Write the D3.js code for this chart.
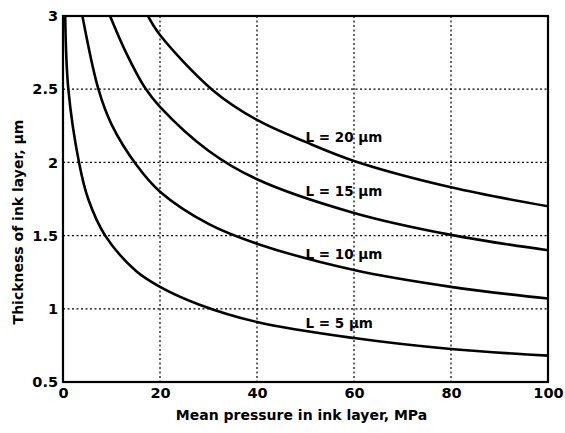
<!DOCTYPE html>
<html>
<head>
<meta charset="utf-8">
<script src="https://cdn.jsdelivr.net/npm/d3@7"></script>
<style>
  body { margin: 0; background: #fff; }
  text { font-family: "DejaVu Sans", Arial, sans-serif; font-weight: bold; fill: #000; }
</style>
</head>
<body>
<script>
// ink layer thickness vs mean pressure, one curve per L

// pressure (MPa) and thickness (um)
var p5  = [0.45, 1.1, 3.3, 5.2, 8.7, 15, 20, 28, 40, 60, 80, 100];
var h5  = [3.0, 2.5, 2.0, 1.75, 1.5, 1.26, 1.15, 1.03, 0.91, 0.80, 0.725, 0.68];
var p10 = [4.0, 7.3, 10, 15.2, 20, 30, 40, 60, 80, 100];
var h10 = [3.0, 2.5, 2.26, 1.98, 1.80, 1.58, 1.445, 1.265, 1.15, 1.07];
var p15 = [9.7, 13, 16.9, 20, 30, 40, 60, 80, 100];
var h15 = [3.0, 2.75, 2.51, 2.38, 2.08, 1.885, 1.655, 1.505, 1.40];
var p20 = [17.5, 20, 31, 40, 50, 60, 80, 100];
var h20 = [3.0, 2.87, 2.49, 2.29, 2.14, 2.01, 1.83, 1.70];

var curveNames = ["L = 5 µm", "L = 10 µm", "L = 15 µm", "L = 20 µm"];
// where each name sits (x in MPa, baseline in µm)
var labelP = [50, 50, 50, 50];
var labelH = [0.87, 1.34, 1.77, 2.14];

var xTicks = [0, 20, 40, 60, 80, 100];
var yTicks = [0.5, 1, 1.5, 2, 2.5, 3];

var series = [[p5, h5], [p10, h10], [p15, h15], [p20, h20]];

var margin = {top: 16, right: 17, bottom: 51, left: 63};
var W = 565, H = 433;
var width = W - margin.left - margin.right;
var height = H - margin.top - margin.bottom;

var x = d3.scaleLinear().domain([0, 100]).range([0, width]);
var y = d3.scaleLinear().domain([0.5, 3]).range([height, 0]);

var svg = d3.select("body").append("svg")
    .attr("width", W)
    .attr("height", H);

var g = svg.append("g")
    .attr("transform", "translate(" + margin.left + "," + margin.top + ")");

// dotted grid
g.selectAll(".vgrid")
    .data(xTicks.slice(1, -1))
    .enter().append("line")
    .attr("x1", function(d) { return x(d); })
    .attr("x2", function(d) { return x(d); })
    .attr("y1", 0)
    .attr("y2", height)
    .attr("stroke", "#000")
    .attr("stroke-width", 1.2)
    .attr("stroke-dasharray", "2,2.5");

g.selectAll(".hgrid")
    .data(yTicks.slice(1, -1))
    .enter().append("line")
    .attr("x1", 0)
    .attr("x2", width)
    .attr("y1", function(d) { return y(d); })
    .attr("y2", function(d) { return y(d); })
    .attr("stroke", "#000")
    .attr("stroke-width", 1.2)
    .attr("stroke-dasharray", "2,2.5");

// curves
var line = d3.line()
    .x(function(d) { return x(d[0]); })
    .y(function(d) { return y(d[1]); })
    .curve(d3.curveCatmullRom.alpha(0.5));

g.append("clipPath").attr("id", "clip")
    .append("rect").attr("width", width).attr("height", height);

g.selectAll(".curve")
    .data(series)
    .enter().append("path")
    .attr("class", "curve")
    .attr("clip-path", "url(#clip)")
    .attr("d", function(s) {
        return line(s[0].map(function(v, i) { return [v, s[1][i]]; }));
    })
    .attr("fill", "none")
    .attr("stroke", "#000")
    .attr("stroke-width", 2.6);

// curve names
g.selectAll(".lbl")
    .data(curveNames)
    .enter().append("text")
    .attr("x", function(d, i) { return x(labelP[i]); })
    .attr("y", function(d, i) { return y(labelH[i]); })
    .style("font-size", "13.5px")
    .text(function(d) { return d; });

// frame
g.append("rect")
    .attr("width", width)
    .attr("height", height)
    .attr("fill", "none")
    .attr("stroke", "#000")
    .attr("stroke-width", 2.2);

// axes, labels only
var xAxis = d3.axisBottom(x).tickValues(xTicks).tickSize(0).tickPadding(6)
    .tickFormat(d3.format("d"));
var yAxis = d3.axisLeft(y).tickValues(yTicks).tickSize(0).tickPadding(5)
    .tickFormat(function(d) { return d; });

var gx = g.append("g")
    .attr("transform", "translate(0," + height + ")")
    .call(xAxis);
var gy = g.append("g").call(yAxis);

gx.select(".domain").remove();
gy.select(".domain").remove();
gx.selectAll("text").style("font-size", "14.5px").style("font-family", null);
gy.selectAll("text").style("font-size", "14.5px").style("font-family", null);

// axis titles
svg.append("text")
    .attr("x", margin.left + width / 2 - 4)
    .attr("y", 420)
    .attr("text-anchor", "middle")
    .style("font-size", "14px")
    .text("Mean pressure in ink layer, MPa");

svg.append("text")
    .attr("transform", "translate(23," + 222 + ") rotate(-90)")
    .attr("text-anchor", "middle")
    .style("font-size", "14px")
    .text("Thickness of ink layer, µm");
</script>
</body>
</html>
